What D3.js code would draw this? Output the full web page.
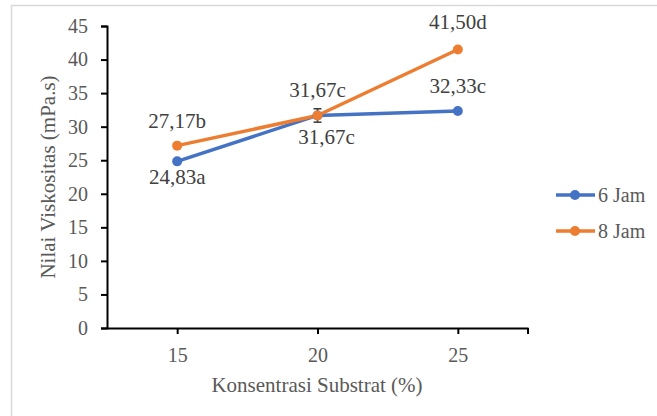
<!DOCTYPE html>
<html>
<head>
<meta charset="utf-8">
<script src="https://cdn.jsdelivr.net/npm/d3@7/dist/d3.min.js"></script>
<style>
  html, body { margin: 0; padding: 0; background: #fff; }
  svg { display: block; }
  svg text { font-family: 'Liberation Serif', 'Times New Roman', Times, Tinos, 'DejaVu Serif', serif !important; }
</style>
</head>
<body>
<svg id="chart" width="657" height="416"></svg>
<script>
// ---- data ----
const concentrations = [15, 20, 25];
const seriesNames = ["6 Jam", "8 Jam"];
const values6 = [24.83, 31.67, 32.33];
const values8 = [27.17, 31.67, 41.50];
const errors6 = [0, 1.0, 0];
const errors8 = [0, 0, 0];
const labels6 = ["24,83a", "31,67c", "32,33c"];
const labels8 = ["27,17b", "31,67c", "41,50d"];
const yTicks = [0, 5, 10, 15, 20, 25, 30, 35, 40, 45];
const xTicks = [15, 20, 25];

// ---- layout ----
const FONT = "'Liberation Serif', 'Times New Roman', Times, Tinos, 'DejaVu Serif', serif";
const svg = d3.select("#chart");
const colors = ["#4472C4", "#ED7D31"];
const x = d3.scaleLinear().domain([12.5, 27.5]).range([107, 528]);
const y = d3.scaleLinear().domain([0, 45]).range([328, 26]);

// frame
svg.append("rect").attr("x", 11.5).attr("y", 5.5).attr("width", 700).attr("height", 460)
  .attr("fill", "none").attr("stroke", "#d9d9d9").attr("stroke-width", 1.5);

// y axis
const yAxis = svg.append("g").attr("transform", "translate(107,0)")
  .call(d3.axisLeft(y).tickValues(yTicks).tickSize(6).tickPadding(13).tickFormat(d3.format("d")));
yAxis.attr("font-family", FONT);
yAxis.select(".domain").attr("stroke", "#000").attr("stroke-width", 2);
yAxis.selectAll(".tick line").attr("stroke", "#000").attr("stroke-width", 2);
yAxis.selectAll(".tick text").attr("fill", "#595959").attr("font-size", 20).attr("font-family", FONT);

// x axis
const xAxis = svg.append("g").attr("transform", "translate(0,328)")
  .call(d3.axisBottom(x).tickValues(xTicks).tickSize(6).tickPadding(14).tickSizeOuter(0));
xAxis.attr("font-family", FONT);
xAxis.select(".domain").attr("stroke", "#000").attr("stroke-width", 2);
xAxis.selectAll(".tick line").attr("stroke", "#000").attr("stroke-width", 2);
xAxis.selectAll(".tick text").attr("fill", "#595959").attr("font-size", 20).attr("font-family", FONT);
// right end tick
svg.append("line").attr("x1", x(27.5)).attr("x2", x(27.5)).attr("y1", 328).attr("y2", 334)
  .attr("stroke", "#000").attr("stroke-width", 2);

// axis titles
svg.append("text").attr("x", 317).attr("y", 392).attr("text-anchor", "middle")
  .attr("font-family", FONT).attr("fill", "#595959").attr("font-size", 21).text("Konsentrasi Substrat (%)");
svg.append("text").attr("transform", "translate(55,177) rotate(-90)").attr("text-anchor", "middle")
  .attr("font-family", FONT).attr("fill", "#595959").attr("font-size", 21).text("Nilai Viskositas (mPa.s)");

// series
const series = [
  { name: seriesNames[0], values: values6, errors: errors6, labels: labels6 },
  { name: seriesNames[1], values: values8, errors: errors8, labels: labels8 }
];
// label placement: [dx, dy] relative to point (layout only)
const labelPlace = [
  [[0, 23], [9, 29], [0, -18]],
  [[0, -18], [0, -18], [0, -20]]
];

const line = d3.line().x((d, i) => x(concentrations[i])).y(d => y(d));

series.forEach((s, si) => {
  svg.append("path").datum(s.values).attr("d", line)
    .attr("fill", "none").attr("stroke", colors[si]).attr("stroke-width", 3.5)
    .attr("stroke-linejoin", "round").attr("stroke-linecap", "round");
});

// error bars
series.forEach((s, si) => {
  s.errors.forEach((e, i) => {
    if (!e) return;
    const cx = x(concentrations[i]);
    const y1 = y(s.values[i] + e), y2 = y(s.values[i] - e);
    const g = svg.append("g").attr("stroke", "#3a3a3a").attr("stroke-width", 1.5);
    g.append("line").attr("x1", cx).attr("x2", cx).attr("y1", y1).attr("y2", y2);
    g.append("line").attr("x1", cx - 4).attr("x2", cx + 4).attr("y1", y1).attr("y2", y1);
    g.append("line").attr("x1", cx - 4).attr("x2", cx + 4).attr("y1", y2).attr("y2", y2);
  });
});

series.forEach((s, si) => {
  svg.selectAll(null).data(s.values).enter().append("circle")
    .attr("cx", (d, i) => x(concentrations[i])).attr("cy", d => y(d)).attr("r", 5)
    .attr("fill", colors[si]);
});

// data labels
series.forEach((s, si) => {
  s.labels.forEach((t, i) => {
    const p = labelPlace[si][i];
    svg.append("text").attr("x", x(concentrations[i]) + p[0]).attr("y", y(s.values[i]) + p[1])
      .attr("text-anchor", "middle").attr("font-family", FONT).attr("fill", "#404040")
      .attr("font-size", 21).text(t);
  });
});

// legend
const legendY = [195, 231];
series.forEach((s, si) => {
  const g = svg.append("g");
  g.append("line").attr("x1", 556).attr("x2", 595).attr("y1", legendY[si]).attr("y2", legendY[si])
    .attr("stroke", colors[si]).attr("stroke-width", 3.5);
  g.append("circle").attr("cx", 575).attr("cy", legendY[si]).attr("r", 5).attr("fill", colors[si]);
  g.append("text").attr("x", 598).attr("y", legendY[si] + 7).attr("font-family", FONT)
    .attr("fill", "#595959").attr("font-size", 20).text(s.name);
});
</script>
</body>
</html>
